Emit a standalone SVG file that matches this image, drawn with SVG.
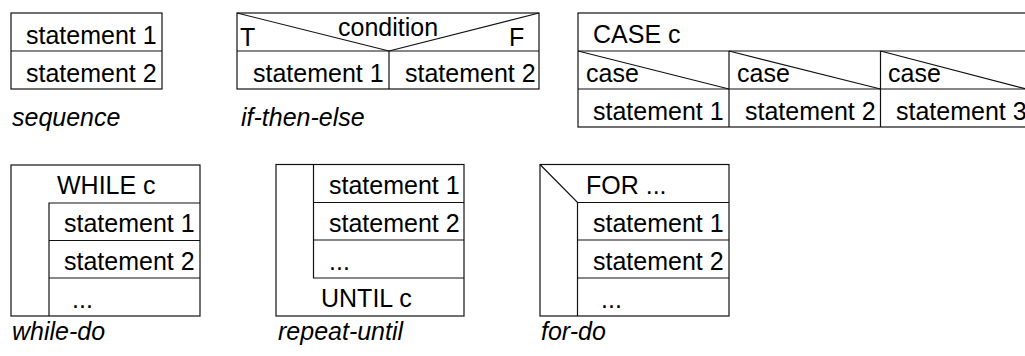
<svg xmlns="http://www.w3.org/2000/svg" width="1025" height="356" viewBox="0 0 1025 356">
<style>
.b{fill:none;stroke:#111;stroke-width:1.2}
text{font-family:"Liberation Sans",Arial,sans-serif;font-size:25px;fill:#000}
.cap{font-style:italic}
</style>
<rect width="1025" height="356" fill="#fff"/>
<g id="sequence">
<rect class="b" x="11" y="13" width="151" height="76"/>
<line class="b" x1="11" y1="51" x2="162" y2="51"/>
<text x="26" y="44">statement 1</text>
<text x="26" y="82">statement 2</text>
<text class="cap" x="12" y="126">sequence</text>
</g>
<g id="if-then-else">
<rect class="b" x="237" y="13" width="302" height="76"/>
<line class="b" x1="237" y1="51" x2="539" y2="51"/>
<line class="b" x1="389" y1="51" x2="389" y2="89"/>
<line class="b" x1="237" y1="13" x2="389" y2="51"/>
<line class="b" x1="389" y1="51" x2="539" y2="13"/>
<text x="240" y="46">T</text>
<text x="338" y="36">condition</text>
<text x="509" y="46">F</text>
<text x="253" y="82">statement 1</text>
<text x="405" y="82">statement 2</text>
<text class="cap" x="241" y="126">if-then-else</text>
</g>
<g id="case">
<rect class="b" x="578" y="13" width="452" height="114"/>
<line class="b" x1="578" y1="51" x2="1030" y2="51"/>
<line class="b" x1="578" y1="89" x2="1030" y2="89"/>
<line class="b" x1="729" y1="51" x2="729" y2="127"/>
<line class="b" x1="880.5" y1="51" x2="880.5" y2="127"/>
<line class="b" x1="578" y1="51" x2="729" y2="89"/>
<line class="b" x1="729" y1="51" x2="880.5" y2="89"/>
<line class="b" x1="880.5" y1="51" x2="1026" y2="89"/>
<text x="593" y="43">CASE c</text>
<text x="586" y="82">case</text>
<text x="737" y="82">case</text>
<text x="888" y="82">case</text>
<text x="593" y="120">statement 1</text>
<text x="745" y="120">statement 2</text>
<text x="896" y="120">statement 3</text>
</g>
<g id="while-do">
<rect class="b" x="11" y="165" width="189" height="151"/>
<polyline class="b" points="49,316 49,203 200,203"/>
<line class="b" x1="49" y1="240.5" x2="200" y2="240.5"/>
<line class="b" x1="49" y1="278" x2="200" y2="278"/>
<text x="57" y="194">WHILE c</text>
<text x="64" y="232">statement 1</text>
<text x="64" y="270">statement 2</text>
<text x="72" y="308">...</text>
<text class="cap" x="12" y="340">while-do</text>
</g>
<g id="repeat-until">
<rect class="b" x="276" y="164.5" width="188" height="151.5"/>
<polyline class="b" points="313.5,164.5 313.5,278 464,278"/>
<line class="b" x1="313.5" y1="202.5" x2="464" y2="202.5"/>
<line class="b" x1="313.5" y1="240" x2="464" y2="240"/>
<text x="329" y="194">statement 1</text>
<text x="329" y="232">statement 2</text>
<text x="329" y="270">...</text>
<text x="321" y="307">UNTIL c</text>
<text class="cap" x="278" y="340">repeat-until</text>
</g>
<g id="for-do">
<rect class="b" x="540" y="164.5" width="189" height="151.5"/>
<polyline class="b" points="540,164.5 577.5,202.5 729,202.5"/>
<line class="b" x1="577.5" y1="202.5" x2="577.5" y2="316"/>
<line class="b" x1="577.5" y1="240" x2="729" y2="240"/>
<line class="b" x1="577.5" y1="278" x2="729" y2="278"/>
<text x="586" y="194">FOR ...</text>
<text x="593" y="232">statement 1</text>
<text x="593" y="270">statement 2</text>
<text x="601" y="308">...</text>
<text class="cap" x="541" y="340">for-do</text>
</g>
<g id="connectors"/>
</svg>
